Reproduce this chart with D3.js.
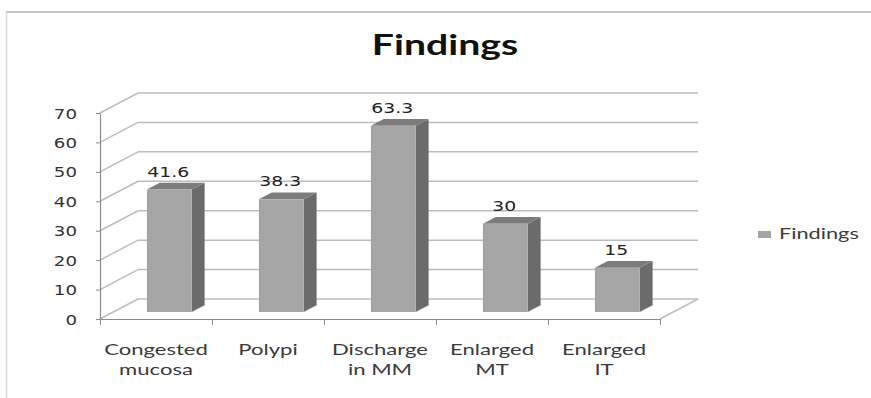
<!DOCTYPE html>
<html>
<head>
<meta charset="utf-8">
<script src="https://cdn.jsdelivr.net/npm/d3@7"></script>
<style>
  html, body { margin: 0; padding: 0; background: #fff; }
  svg { display: block; }
</style>
</head>
<body>
<svg id="chart" width="871" height="398"></svg>
<script>
// ---- data ----
const chartTitle = "Findings";
const seriesName = "Findings";
const categories = ["Congested mucosa", "Polypi", "Discharge in MM", "Enlarged MT", "Enlarged IT"];
const categoryLines = [["Congested", "mucosa"], ["Polypi"], ["Discharge", "in MM"], ["Enlarged", "MT"], ["Enlarged", "IT"]];
const values = [41.6, 38.3, 63.3, 30, 15];
const yTicks = [0, 10, 20, 30, 40, 50, 60, 70];

// ---- layout ----
const svg = d3.select("#chart");
const plot = { left: 100, right: 660, bottom: 319, top: 113 };
const depth = { dx: 38, dy: -20 };       // back wall offset of the 3-D box
const barDepth = { front: 0.35, back: 0.69 };
const numStretch = 1.3;                   // horizontal stretch of numeric lettering
const wordStretch = 1.45;                 // horizontal stretch of legend lettering
const catStretch = 1.38;                  // horizontal stretch of category lettering

const x = d3.scaleBand().domain(categories).range([plot.left, plot.right])
  .paddingInner(0.6).paddingOuter(0.3);
const y = d3.scaleLinear().domain([0, 70]).range([plot.bottom, plot.top]);
const edge = d3.scaleLinear().domain([0, categories.length]).range([plot.left, plot.right]);

const gridColor = "#bdbdbd";
const axisColor = "#8c8c8c";

// outer chart frame
svg.append("line").attr("x1", 6).attr("x2", 871).attr("y1", 12).attr("y2", 12)
  .attr("stroke", "#b4b4b4").attr("stroke-width", 1.5);
svg.append("line").attr("x1", 6.5).attr("x2", 6.5).attr("y1", 12).attr("y2", 398)
  .attr("stroke", "#dcdcdc").attr("stroke-width", 1.5);

// title
svg.append("text")
  .attr("transform", `translate(445,55) scale(1.4,1)`)
  .attr("text-anchor", "middle")
  .attr("font-family", "Lato, 'Open Sans', sans-serif")
  .attr("font-weight", "bold").attr("font-size", 28)
  .attr("fill", "#111").text(chartTitle);

// walls: gridlines on the back wall and the left side wall
const grid = svg.append("g").attr("stroke", gridColor).attr("stroke-width", 1.5).attr("fill", "none");
yTicks.forEach(t => {
  grid.append("line")
    .attr("x1", plot.left + depth.dx).attr("y1", y(t) + depth.dy)
    .attr("x2", plot.right + depth.dx).attr("y2", y(t) + depth.dy);
  grid.append("line")
    .attr("x1", plot.left).attr("y1", y(t))
    .attr("x2", plot.left + depth.dx).attr("y2", y(t) + depth.dy);
});
// floor right edge
grid.append("line")
  .attr("x1", plot.right).attr("y1", y(0))
  .attr("x2", plot.right + depth.dx).attr("y2", y(0) + depth.dy);

// value axis
const yAxis = svg.append("g").attr("transform", `translate(${plot.left},0)`)
  .call(d3.axisLeft(y).tickValues(yTicks).tickSize(4).tickSizeOuter(0));
yAxis.select(".domain").attr("stroke", axisColor).attr("stroke-width", 1.2);
yAxis.selectAll(".tick line").attr("stroke", axisColor);
yAxis.selectAll(".tick text")
  .attr("x", null).attr("dy", null)
  .attr("transform", `translate(-23,5) scale(${numStretch},1)`)
  .attr("font-family", "'DejaVu Sans', Verdana, sans-serif")
  .attr("font-size", 14).attr("fill", "#333");

// category axis line and boundary ticks
const xAxis = svg.append("g").attr("transform", `translate(0,${plot.bottom})`)
  .call(d3.axisBottom(edge).ticks(categories.length).tickSize(6).tickSizeOuter(0).tickFormat(""));
xAxis.select(".domain").attr("stroke", axisColor).attr("stroke-width", 1.2);
xAxis.selectAll(".tick line").attr("stroke", axisColor);

// category labels
categories.forEach((c, i) => {
  const cx = x(c) + x.bandwidth() / 2;
  categoryLines[i].forEach((line, j) => {
    svg.append("text")
      .attr("transform", `translate(${cx},${355 + j * 20}) scale(${catStretch},1)`)
      .attr("text-anchor", "middle")
      .attr("font-family", "Lato, 'Open Sans', sans-serif")
      .attr("font-size", 16).attr("fill", "#3a3a3a")
      .text(line);
  });
});

// 3-D columns
const bw = x.bandwidth();
const ddx = (barDepth.back - barDepth.front) * depth.dx;
const ddy = (barDepth.back - barDepth.front) * depth.dy;
const bars = svg.append("g");
categories.forEach((c, i) => {
  const v = values[i];
  const x0 = x(c) + barDepth.front * depth.dx;
  const x1 = x0 + bw;
  const yb = y(0) + barDepth.front * depth.dy;
  const yt = y(v) + barDepth.front * depth.dy;
  const g = bars.append("g");
  g.append("polygon")
    .attr("points", [[x1, yt], [x1 + ddx, yt + ddy], [x1 + ddx, yb + ddy], [x1, yb]].join(" "))
    .attr("fill", "#6b6b6b");
  g.append("polygon")
    .attr("points", [[x0, yt], [x1, yt], [x1 + ddx, yt + ddy], [x0 + ddx, yt + ddy]].join(" "))
    .attr("fill", "#7c7c7c");
  g.append("rect")
    .attr("x", x0).attr("y", yt).attr("width", bw).attr("height", yb - yt)
    .attr("fill", "#a5a5a5");
  g.append("text")
    .attr("transform", `translate(${x0 + bw / 2 - 1},${yt + ddy - 6}) scale(${numStretch},1)`)
    .attr("text-anchor", "middle")
    .attr("font-family", "'DejaVu Sans', Verdana, sans-serif")
    .attr("font-size", 14.5).attr("fill", "#222")
    .text(v);
});

// legend
const legend = svg.append("g");
legend.append("rect").attr("x", 758).attr("y", 231).attr("width", 13).attr("height", 7).attr("fill", "#a5a5a5");
legend.append("text")
  .attr("transform", `translate(779,239) scale(${wordStretch},1)`)
  .attr("font-family", "Lato, 'Open Sans', sans-serif")
  .attr("font-size", 15).attr("fill", "#3a3a3a")
  .text(seriesName);
</script>
</body>
</html>
